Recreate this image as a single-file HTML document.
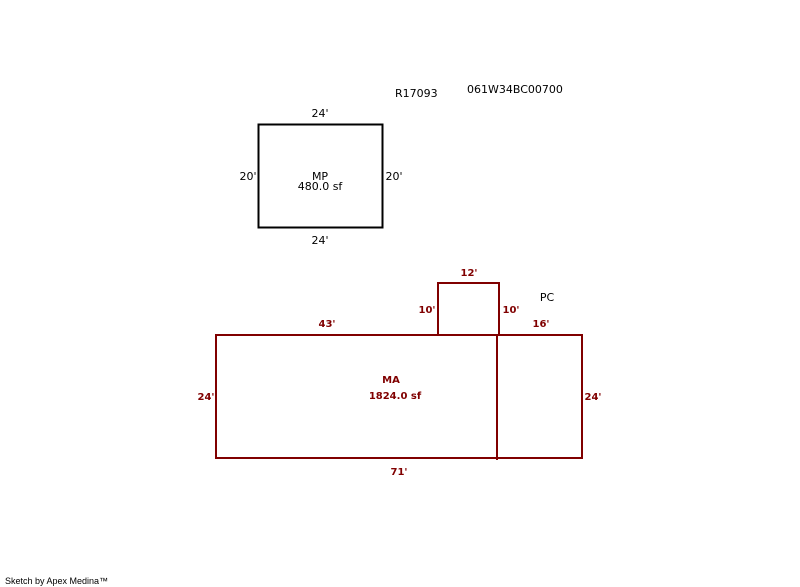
<!DOCTYPE html>
<html><head><style>body{margin:0;background:#fff}svg{display:block}</style></head>
<body>
<svg width="800" height="587" xmlns="http://www.w3.org/2000/svg" font-family="Verdana, 'DejaVu Sans', sans-serif" font-size="11">
<rect x="0" y="0" width="800" height="587" fill="#fff"/>
<text x="395" y="97" fill="#000">R17093</text>
<text x="467" y="93" fill="#000">061W34BC00700</text>
<rect x="258.5" y="124.5" width="124" height="103" fill="none" stroke="#000" stroke-width="2"/>
<text x="320" y="117" text-anchor="middle">24'</text>
<text x="320" y="244" text-anchor="middle">24'</text>
<text x="248" y="180" text-anchor="middle">20'</text>
<text x="394" y="180" text-anchor="middle">20'</text>
<text x="320" y="180" text-anchor="middle">MP</text>
<text x="320" y="190" text-anchor="middle">480.0 sf</text>
<g fill="none" stroke="#800000" stroke-width="2">
<rect x="216" y="335" width="366" height="123"/>
<polyline points="438,335 438,283 499,283 499,335"/>
<line x1="497" y1="335" x2="497" y2="460"/>
</g>
<g fill="#800000" font-weight="bold" font-size="10" text-anchor="middle">
<text x="469" y="276">12'</text>
<text x="427" y="313">10'</text>
<text x="511" y="313">10'</text>
<text x="327" y="327">43'</text>
<text x="541" y="327">16'</text>
<text x="206" y="400">24'</text>
<text x="593" y="400">24'</text>
<text x="399" y="475">71'</text>
<text x="391" y="383">MA</text>
<text x="395" y="399">1824.0 sf</text>
</g>
<text x="547" y="301" text-anchor="middle" fill="#000" font-size="11">PC</text>
<text x="5" y="584" font-family="'Liberation Sans', sans-serif" font-size="9" fill="#000">Sketch by Apex Medina™</text>
</svg>
</body></html>
